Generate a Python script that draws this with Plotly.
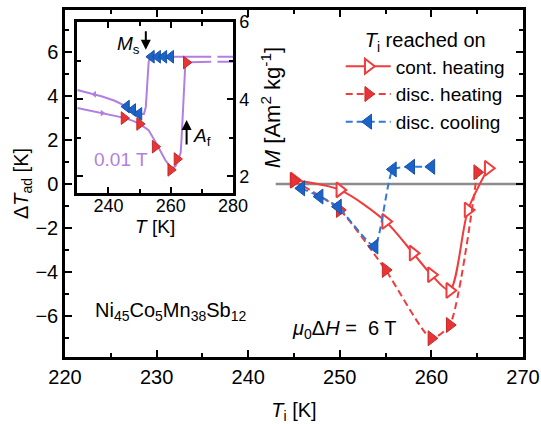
import plotly.graph_objects as go

# ---------------- data ----------------
# main panel: adiabatic temperature change vs. T_i
cont_heat_T = [245, 250, 255, 258, 260, 262, 264, 266.2]
cont_heat_dT = [0.18, -0.27, -1.7, -3.14, -4.12, -4.83, -1.18, 0.71]

disc_heat_T = [245, 250, 255, 260, 262, 265]
disc_heat_dT = [0.15, -1.18, -3.9, -7.0, -6.4, 0.53]

disc_cool_T = [245.8, 247.8, 249.8, 253.8, 255.8, 257.8, 260.0]
disc_cool_dT = [-0.2, -0.57, -1.03, -2.84, 0.66, 0.78, 0.78]

baseline_T = [243, 270]
baseline_dT = [0, 0]

# inset: M(T) at 0.01 T
inset_heat_T = [230, 234, 238, 242, 245.5, 249.7, 252.9, 255.6, 258.2, 260.3, 261.5,
                262.4, 263.2, 263.5, 263.8, 264.1, 264.4, 264.7, 266.0, 270, 273]
inset_heat_M = [3.77, 3.70, 3.64, 3.57, 3.51, 3.38, 3.20, 2.82, 2.43, 2.20, 2.26,
                2.42, 2.62, 3.0, 3.6, 4.2, 4.7, 4.93, 4.96, 4.97, 4.97]
inset_heat_ext_T = [275, 280]
inset_heat_ext_M = [4.97, 4.97]

inset_cool_T = [230, 234, 238, 242, 246.0, 248.2, 250.3, 251.4, 252.0, 252.3, 252.6,
                252.9, 253.3, 254.5, 258, 262, 266, 270, 273]
inset_cool_M = [4.24, 4.15, 4.07, 3.96, 3.81, 3.72, 3.62, 3.62, 3.8, 4.2, 4.6,
                4.95, 5.08, 5.10, 5.10, 5.10, 5.10, 5.10, 5.10]
inset_cool_ext_T = [275, 280]
inset_cool_ext_M = [5.10, 5.10]

inset_heat_pts_M = [3.51, 3.36, 2.77, 2.17, 2.45, 4.95]
inset_cool_pts_M = [3.81, 3.72, 3.62, 5.10, 5.10, 5.10, 5.10]

arrow_left_T, arrow_left_M = [235.5], [4.13]
arrow_right_T, arrow_right_M = [238.0], [3.64]

x_ticks_main = [220, 230, 240, 250, 260, 270]
y_ticks_main = [-6, -4, -2, 0, 2, 4, 6]
x_ticks_inset = [240, 260, 280]
y_ticks_inset = [2, 4, 6]

# ---------------- style ----------------
RED = "#f03c3c"
RED_FILL = "#e83434"
RED_EDGE = "#c82a2a"
BLUE = "#2f78dc"
BLUE_FILL = "#1c63c8"
BLUE_EDGE = "#1650a8"
PURPLE = "#b27fe0"
GRAY = "#8c8c8c"
FONT = "Arial, Liberation Sans, sans-serif"

fig = go.Figure()

fig.add_trace(go.Scatter(x=baseline_T, y=baseline_dT, mode="lines",
                         line=dict(color=GRAY, width=2.5), showlegend=False,
                         hoverinfo="skip"))

fig.add_trace(go.Scatter(
    x=cont_heat_T, y=cont_heat_dT, mode="lines+markers", name="cont. heating",
    line=dict(color=RED, width=2, shape="spline", smoothing=0.8),
    marker=dict(symbol="triangle-right", size=13, color="white",
                line=dict(color=RED, width=2))))

fig.add_trace(go.Scatter(
    x=disc_heat_T, y=disc_heat_dT, mode="lines+markers", name="disc. heating",
    line=dict(color=RED, width=2, dash="7px,4px", shape="spline", smoothing=0.6),
    marker=dict(symbol="triangle-right", size=13, color=RED_FILL,
                line=dict(color=RED_EDGE, width=1))))

fig.add_trace(go.Scatter(
    x=disc_cool_T, y=disc_cool_dT, mode="lines+markers", name="disc. cooling",
    line=dict(color=BLUE, width=2, dash="7px,4px", shape="spline", smoothing=0.5),
    marker=dict(symbol="triangle-left", size=13, color=BLUE_FILL,
                line=dict(color=BLUE_EDGE, width=1))))

# inset traces
for xs, ys, in [(inset_heat_T, inset_heat_M), (inset_cool_T, inset_cool_M),
                (inset_heat_ext_T, inset_heat_ext_M), (inset_cool_ext_T, inset_cool_ext_M)]:
    fig.add_trace(go.Scatter(x=xs, y=ys, mode="lines", xaxis="x2", yaxis="y2",
                             line=dict(color=PURPLE, width=2), showlegend=False,
                             hoverinfo="skip"))

fig.add_trace(go.Scatter(x=arrow_left_T, y=arrow_left_M, mode="markers", xaxis="x2", yaxis="y2",
                         marker=dict(symbol="triangle-left", size=6, color=PURPLE),
                         showlegend=False, hoverinfo="skip"))
fig.add_trace(go.Scatter(x=arrow_right_T, y=arrow_right_M, mode="markers", xaxis="x2", yaxis="y2",
                         marker=dict(symbol="triangle-right", size=6, color=PURPLE),
                         showlegend=False, hoverinfo="skip"))

fig.add_trace(go.Scatter(x=disc_cool_T, y=inset_cool_pts_M, mode="markers", xaxis="x2", yaxis="y2",
                         marker=dict(symbol="triangle-left", size=11, color=BLUE_FILL,
                                     line=dict(color=BLUE_EDGE, width=1)),
                         showlegend=False))
fig.add_trace(go.Scatter(x=disc_heat_T, y=inset_heat_pts_M, mode="markers", xaxis="x2", yaxis="y2",
                         marker=dict(symbol="triangle-right", size=11, color=RED_FILL,
                                     line=dict(color=RED_EDGE, width=1)),
                         showlegend=False))

axis_common = dict(showline=True, linecolor="black", linewidth=2.5, mirror="allticks",
                   ticks="inside", tickwidth=2, tickcolor="black", showgrid=False,
                   zeroline=False, automargin=False)

fig.update_layout(
    width=541, height=424,
    margin=dict(l=65, r=18, t=10, b=67, autoexpand=False),
    paper_bgcolor="white", plot_bgcolor="white",
    font=dict(family=FONT, size=20, color="black"),
    xaxis=dict(range=[220, 270], tickvals=x_ticks_main, ticklen=7,
               minor=dict(dtick=5, ticklen=4, tickwidth=2, ticks="inside"),
               tickfont=dict(size=20),
               title=dict(text="<i>T</i><sub>i</sub> [K]", font=dict(size=20), standoff=19),
               **axis_common),
    yaxis=dict(range=[-7.85, 7.89], tickvals=y_ticks_main, ticklen=7,
               minor=dict(dtick=1, ticklen=4, tickwidth=2, ticks="inside"),
               tickfont=dict(size=20),
               title=dict(text="Δ<i>T</i><sub>ad</sub> [K]", font=dict(size=20), standoff=2),
               **axis_common),
    xaxis2=dict(domain=[0.0269, 0.3668], anchor="y2", range=[230, 280],
                tickvals=x_ticks_inset, ticklen=6,
                minor=dict(dtick=10, ticklen=4, tickwidth=2, ticks="inside"),
                tickfont=dict(size=18), ticklabelstandoff=-5,
                title=dict(text="<i>T</i> [K]", font=dict(size=19), standoff=0),
                **axis_common),
    yaxis2=dict(domain=[0.4726, 0.9654], anchor="x2", range=[1.57, 6.0], side="right",
                tickvals=y_ticks_inset, ticklen=6,
                minor=dict(dtick=1, ticklen=4, tickwidth=2, ticks="inside"),
                tickfont=dict(size=18),
                title=dict(text="<i>M</i> [Am<sup>2</sup> kg<sup>-1</sup>]", font=dict(size=22),
                           standoff=17),
                **axis_common),
    legend=dict(x=0.602, y=0.967, xanchor="left", yanchor="top",
                bgcolor="rgba(0,0,0,0)", font=dict(size=19), itemwidth=45,
                tracegroupgap=0,
                title=dict(text="<i>T</i><sub>i</sub> reached on", side="top center",
                           font=dict(size=20))),
    annotations=[
        dict(x=223.1, y=-5.8, xref="x", yref="y", xanchor="left", yanchor="middle",
             text="Ni<sub>45</sub>Co<sub>5</sub>Mn<sub>38</sub>Sb<sub>12</sub>",
             showarrow=False, font=dict(size=20)),
        dict(x=244.6, y=-6.6, xref="x", yref="y", xanchor="left", yanchor="middle",
             text="<i>μ</i><sub>0</sub>Δ<i>H</i> =  6 T", showarrow=False, font=dict(size=20)),
        dict(x=246.4, y=5.41, xref="x2", yref="y2", xanchor="center", yanchor="middle",
             text="<i>M</i><sub>s</sub>", showarrow=False, font=dict(size=19)),
        dict(x=252.0, y=5.28, xref="x2", yref="y2", ax=0, ay=-20, text="",
             showarrow=True, arrowhead=2, arrowsize=1, arrowwidth=2, arrowcolor="black"),
        dict(x=270.1, y=3.02, xref="x2", yref="y2", xanchor="center", yanchor="middle",
             text="<i>A</i><sub>f</sub>", showarrow=False, font=dict(size=19)),
        dict(x=265.1, y=3.46, xref="x2", yref="y2", ax=0, ay=26, text="",
             showarrow=True, arrowhead=2, arrowsize=1, arrowwidth=2, arrowcolor="black"),
        dict(x=244.0, y=2.43, xref="x2", yref="y2", xanchor="center", yanchor="middle",
             text="0.01 T", showarrow=False, font=dict(size=19, color=PURPLE)),
    ],
)

fig.write_html("out.html")
